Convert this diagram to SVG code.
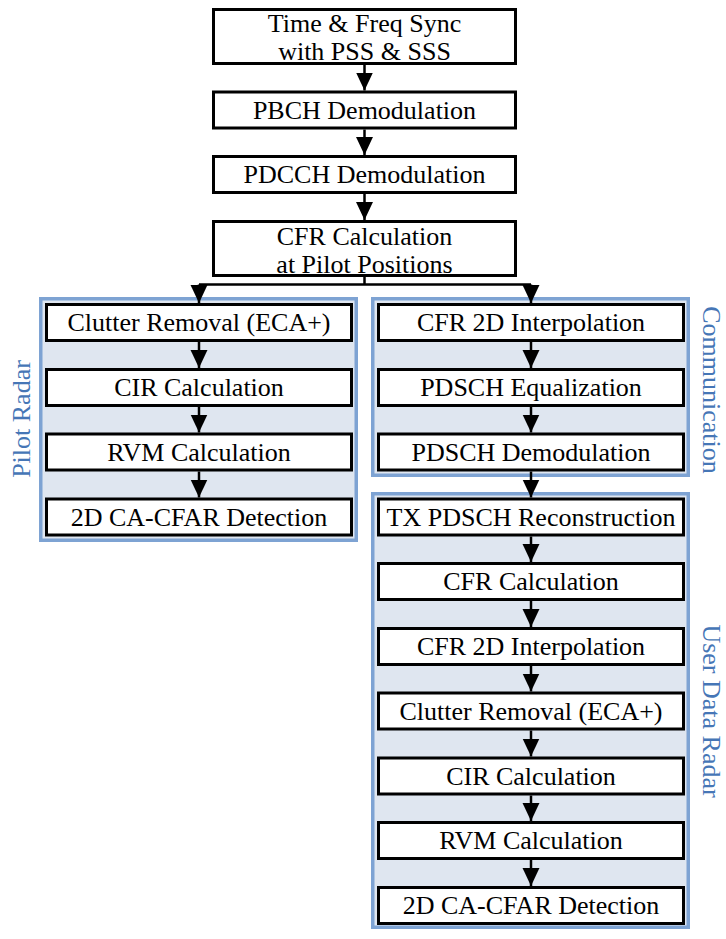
<svg xmlns="http://www.w3.org/2000/svg" width="726" height="939" viewBox="0 0 726 939">
<defs>
<style>
.bx{fill:#fff;stroke:#000;stroke-width:3}
.ct{fill:#dfe6f0;stroke:#7ea3d3;stroke-width:3.5}
.t{font-family:"Liberation Serif","Times New Roman",serif;font-size:26px;fill:#000;text-anchor:middle}
.lb{font-family:"Liberation Serif","Times New Roman",serif;font-size:26px;fill:#4676b6;text-anchor:middle}
.ln{stroke:#000;stroke-width:2.5;fill:none}
</style>
<marker id="ah" markerUnits="userSpaceOnUse" markerWidth="18" markerHeight="18" viewBox="0 0 17 16" refX="17" refY="8" orient="auto">
<path d="M0,0 L17,8 L0,16 Z" fill="#000"/>
</marker>
</defs>
<rect width="726" height="939" fill="#fff"/>

<g id="containers">
<g id="pilot-radar-group">
<rect class="ct" x="40.75" y="298.75" width="315.5" height="241.5"/>
<text class="lb" transform="translate(29.5,419) rotate(-90)">Pilot Radar</text>
</g>
<g id="communication-group">
<rect class="ct" x="372.75" y="298.75" width="315.5" height="176.5"/>
<text class="lb" transform="translate(702.5,390) rotate(90)">Communication</text>
</g>
<g id="user-data-radar-group">
<rect class="ct" x="372.75" y="493.75" width="315.5" height="433.5"/>
<text class="lb" transform="translate(702.5,711) rotate(90)">User Data Radar</text>
</g>
</g>

<g id="connectors">
<path class="ln" d="M364.5,65 V90.5" marker-end="url(#ah)"/>
<path class="ln" d="M364.5,129.5 V155" marker-end="url(#ah)"/>
<path class="ln" d="M364.5,194 V220" marker-end="url(#ah)"/>
<path class="ln" d="M364.5,277 V284.5 M199,284.5 H531"/>
<path class="ln" d="M199,284.5 V303" marker-end="url(#ah)"/>
<path class="ln" d="M531,284.5 V303" marker-end="url(#ah)"/>
<path class="ln" d="M199,342 V368" marker-end="url(#ah)"/>
<path class="ln" d="M199,407 V432.5" marker-end="url(#ah)"/>
<path class="ln" d="M199,471.5 V497.5" marker-end="url(#ah)"/>
<path class="ln" d="M531,342 V368" marker-end="url(#ah)"/>
<path class="ln" d="M531,407 V432.5" marker-end="url(#ah)"/>
<path class="ln" d="M531,471.5 V497.5" marker-end="url(#ah)"/>
<path class="ln" d="M531,536.5 V562" marker-end="url(#ah)"/>
<path class="ln" d="M531,601 V627" marker-end="url(#ah)"/>
<path class="ln" d="M531,666 V691.5" marker-end="url(#ah)"/>
<path class="ln" d="M531,730.5 V756.5" marker-end="url(#ah)"/>
<path class="ln" d="M531,795.5 V821" marker-end="url(#ah)"/>
<path class="ln" d="M531,860 V886" marker-end="url(#ah)"/>
</g>

<g id="n-sync"><rect class="bx" x="213.5" y="9.5" width="302" height="54"/><text class="t" x="364.5" y="31.5">Time &amp; Freq Sync</text><text class="t" x="364.5" y="59.5">with PSS &amp; SSS</text></g>
<g id="n-pbch"><rect class="bx" x="213.5" y="92" width="302" height="36"/><text class="t" x="364.5" y="118.5">PBCH Demodulation</text></g>
<g id="n-pdcch"><rect class="bx" x="213.5" y="156.5" width="302" height="36"/><text class="t" x="364.5" y="183">PDCCH Demodulation</text></g>
<g id="n-cfr-pilot"><rect class="bx" x="213.5" y="221.5" width="302" height="54"/><text class="t" x="364.5" y="245">CFR Calculation</text><text class="t" x="364.5" y="273">at Pilot Positions</text></g>

<g id="n-p-clutter"><rect class="bx" x="46.5" y="304.5" width="305" height="36"/><text class="t" x="199" y="331">Clutter Removal (ECA+)</text></g>
<g id="n-p-cir"><rect class="bx" x="46.5" y="369.5" width="305" height="36"/><text class="t" x="199" y="396">CIR Calculation</text></g>
<g id="n-p-rvm"><rect class="bx" x="46.5" y="434" width="305" height="36"/><text class="t" x="199" y="460.5">RVM Calculation</text></g>
<g id="n-p-cfar"><rect class="bx" x="46.5" y="499" width="305" height="36"/><text class="t" x="199" y="525.5">2D CA-CFAR Detection</text></g>

<g id="n-c-interp"><rect class="bx" x="378.5" y="304.5" width="305" height="36"/><text class="t" x="531" y="331">CFR 2D Interpolation</text></g>
<g id="n-c-eq"><rect class="bx" x="378.5" y="369.5" width="305" height="36"/><text class="t" x="531" y="396">PDSCH Equalization</text></g>
<g id="n-c-demod"><rect class="bx" x="378.5" y="434" width="305" height="36"/><text class="t" x="531" y="460.5">PDSCH Demodulation</text></g>

<g id="n-u-tx"><rect class="bx" x="378.5" y="499" width="305" height="36"/><text class="t" x="531" y="525.5">TX PDSCH Reconstruction</text></g>
<g id="n-u-cfr"><rect class="bx" x="378.5" y="563.5" width="305" height="36"/><text class="t" x="531" y="590">CFR Calculation</text></g>
<g id="n-u-interp"><rect class="bx" x="378.5" y="628.5" width="305" height="36"/><text class="t" x="531" y="655">CFR 2D Interpolation</text></g>
<g id="n-u-clutter"><rect class="bx" x="378.5" y="693" width="305" height="36"/><text class="t" x="531" y="719.5">Clutter Removal (ECA+)</text></g>
<g id="n-u-cir"><rect class="bx" x="378.5" y="758" width="305" height="36"/><text class="t" x="531" y="784.5">CIR Calculation</text></g>
<g id="n-u-rvm"><rect class="bx" x="378.5" y="822.5" width="305" height="36"/><text class="t" x="531" y="849">RVM Calculation</text></g>
<g id="n-u-cfar"><rect class="bx" x="378.5" y="887.5" width="305" height="36"/><text class="t" x="531" y="914">2D CA-CFAR Detection</text></g>
</svg>
